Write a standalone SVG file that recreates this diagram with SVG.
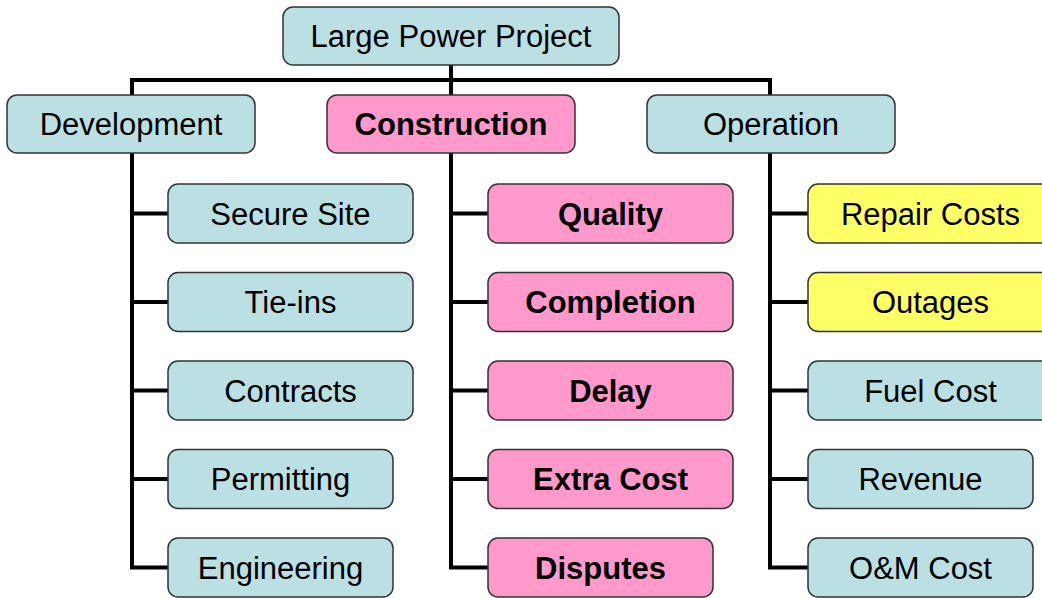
<svg xmlns="http://www.w3.org/2000/svg" width="1042" height="598" viewBox="0 0 1042 598">
  <style>
    .box { stroke: #333333; stroke-width: 1.5; }
    .teal { fill: #BBE0E3; }
    .pink { fill: #FF99CC; }
    .yellow { fill: #FFFF66; }
    .lbl { font-family: "Liberation Sans", Arial, sans-serif; font-size: 31px; fill: #000; text-anchor: middle; }
    .bold { font-weight: bold; }
    .wire { fill: none; stroke: #000; stroke-width: 4; stroke-linejoin: miter; }
  </style>

  <!-- connectors -->
  <g id="connectors">
    <path class="wire" d="M132,95 V80 H770 V95"/>
    <path class="wire" d="M451,65 V95"/>
    <!-- Development branch -->
    <path class="wire" d="M132,153 V567.5 H168 M132,213.5 H168 M132,302 H168 M132,390.5 H168 M132,479 H168"/>
    <!-- Construction branch -->
    <path class="wire" d="M451,153 V567.5 H488 M451,213.5 H488 M451,302 H488 M451,390.5 H488 M451,479 H488"/>
    <!-- Operation branch -->
    <path class="wire" d="M770,153 V567.5 H808 M770,213.5 H808 M770,302 H808 M770,390.5 H808 M770,479 H808"/>
  </g>

  <g id="root">
    <rect class="box teal" x="283" y="7" width="336" height="58" rx="10"/>
    <text class="lbl" x="451" y="47">Large Power Project</text>
  </g>

  <g id="development">
    <rect class="box teal" x="7" y="95" width="248" height="58" rx="10"/>
    <text class="lbl" x="131" y="135">Development</text>
  </g>
  <g id="construction">
    <rect class="box pink" x="327" y="95" width="248" height="58" rx="10"/>
    <text class="lbl bold" x="451" y="135">Construction</text>
  </g>
  <g id="operation">
    <rect class="box teal" x="647" y="95" width="248" height="58" rx="10"/>
    <text class="lbl" x="771" y="135">Operation</text>
  </g>

  <!-- Development children -->
  <g id="secure-site">
    <rect class="box teal" x="168" y="184" width="245" height="59" rx="10"/>
    <text class="lbl" x="290.5" y="224.5">Secure Site</text>
  </g>
  <g id="tie-ins">
    <rect class="box teal" x="168" y="272.5" width="245" height="59" rx="10"/>
    <text class="lbl" x="290.5" y="313">Tie-ins</text>
  </g>
  <g id="contracts">
    <rect class="box teal" x="168" y="361" width="245" height="59" rx="10"/>
    <text class="lbl" x="290.5" y="401.5">Contracts</text>
  </g>
  <g id="permitting">
    <rect class="box teal" x="168" y="449.5" width="225" height="59" rx="10"/>
    <text class="lbl" x="280.5" y="490">Permitting</text>
  </g>
  <g id="engineering">
    <rect class="box teal" x="168" y="538" width="225" height="59" rx="10"/>
    <text class="lbl" x="280.5" y="578.5">Engineering</text>
  </g>

  <!-- Construction children -->
  <g id="quality">
    <rect class="box pink" x="488" y="184" width="245" height="59" rx="10"/>
    <text class="lbl bold" x="610.5" y="224.5">Quality</text>
  </g>
  <g id="completion">
    <rect class="box pink" x="488" y="272.5" width="245" height="59" rx="10"/>
    <text class="lbl bold" x="610.5" y="313">Completion</text>
  </g>
  <g id="delay">
    <rect class="box pink" x="488" y="361" width="245" height="59" rx="10"/>
    <text class="lbl bold" x="610.5" y="401.5">Delay</text>
  </g>
  <g id="extra-cost">
    <rect class="box pink" x="488" y="449.5" width="245" height="59" rx="10"/>
    <text class="lbl bold" x="610.5" y="490">Extra Cost</text>
  </g>
  <g id="disputes">
    <rect class="box pink" x="488" y="538" width="225" height="59" rx="10"/>
    <text class="lbl bold" x="600.5" y="578.5">Disputes</text>
  </g>

  <!-- Operation children -->
  <g id="repair-costs">
    <rect class="box yellow" x="808" y="184" width="245" height="59" rx="10"/>
    <text class="lbl" x="930.5" y="224.5">Repair Costs</text>
  </g>
  <g id="outages">
    <rect class="box yellow" x="808" y="272.5" width="245" height="59" rx="10"/>
    <text class="lbl" x="930.5" y="313">Outages</text>
  </g>
  <g id="fuel-cost">
    <rect class="box teal" x="808" y="361" width="245" height="59" rx="10"/>
    <text class="lbl" x="930.5" y="401.5">Fuel Cost</text>
  </g>
  <g id="revenue">
    <rect class="box teal" x="808" y="449.5" width="225" height="59" rx="10"/>
    <text class="lbl" x="920.5" y="490">Revenue</text>
  </g>
  <g id="om-cost">
    <rect class="box teal" x="808" y="538" width="225" height="59" rx="10"/>
    <text class="lbl" x="920.5" y="578.5">O&amp;M Cost</text>
  </g>
</svg>
